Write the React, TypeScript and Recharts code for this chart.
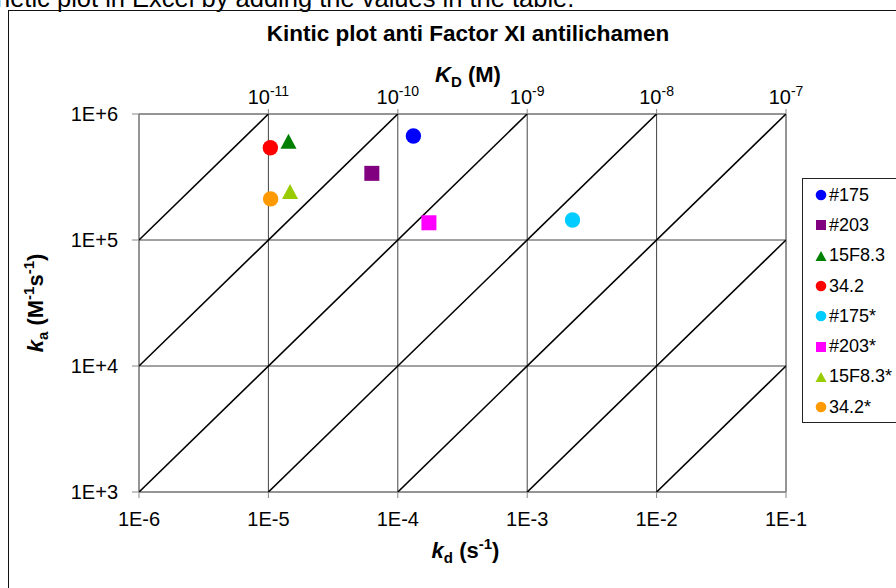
import { CartesianGrid, Label, Legend, ReferenceLine, Scatter, ScatterChart, XAxis, YAxis } from 'recharts';

const FONT = '"Liberation Sans", Arial, sans-serif';

const seriesNames = ['#175', '#203', '15F8.3', '34.2', '#175*', '#203*', '15F8.3*', '34.2*'];
const kdValues = [1.32e-4, 6.3e-5, 1.43e-5, 1.035e-5, 2.24e-3, 1.74e-4, 1.47e-5, 1.04e-5];
const kaValues = [6.69e5, 3.38e5, 6.07e5, 5.4e5, 1.44e5, 1.37e5, 2.43e5, 2.12e5];
const seriesColors = ['#0000ff', '#800080', '#008000', '#ff0000', '#00ccff', '#ff00ff', '#99cc00', '#ff9900'];
const seriesShapes = ['circle', 'square', 'triangle', 'circle', 'circle', 'square', 'triangle', 'circle'];

const kdTicks = [1e-6, 1e-5, 1e-4, 1e-3, 1e-2, 1e-1];
const kdTickLabels = ['1E-6', '1E-5', '1E-4', '1E-3', '1E-2', '1E-1'];
const kaTicks = [1e3, 1e4, 1e5, 1e6];
const kaTickLabels = ['1E+3', '1E+4', '1E+5', '1E+6'];
// KD axis on top: KD = kd / 1E+6
const kDTicks = [1e-5, 1e-4, 1e-3, 1e-2, 1e-1];
const kDExponents = ['-11', '-10', '-9', '-8', '-7'];
// iso-affinity diagonals
const kDLines = [1e-11, 1e-10, 1e-9, 1e-8, 1e-7, 1e-6, 1e-5];

const series = seriesNames.map((name, i) => ({
  name,
  color: seriesColors[i],
  shape: seriesShapes[i],
  data: [{ kd: kdValues[i], ka: kaValues[i] }],
}));

// each diagonal clipped to the plot box (kd 1E-6..1E-1, ka 1E+3..1E+6)
const diagonals = kDLines.map((kD) => {
  const x1 = Math.max(1e-6, kD * 1e3);
  const x2 = Math.min(1e-1, kD * 1e6);
  return { kD, data: [{ kd: x1, ka: x1 / kD }, { kd: x2, ka: x2 / kD }] };
});

const Marker = ({ cx, cy, fill, kind }: any) => {
  if (kind === 'square') return <rect x={cx - 7.5} y={cy - 7.5} width={15} height={15} fill={fill} />;
  if (kind === 'triangle')
    return <polygon points={`${cx},${cy - 7.5} ${cx + 8},${cy + 7.5} ${cx - 8},${cy + 7.5}`} fill={fill} />;
  return <circle cx={cx} cy={cy} r={7.7} fill={fill} />;
};

const LegendIcon = ({ kind, color }: { kind: string; color: string }) => (
  <svg width={12} height={12} style={{ marginRight: 2 }}>
    {kind === 'square' && <rect x={1} y={1} width={10} height={10} fill={color} />}
    {kind === 'triangle' && <polygon points="6,1 11.5,11 0.5,11" fill={color} />}
    {kind === 'circle' && <circle cx={6} cy={6} r={5.3} fill={color} />}
  </svg>
);

const LegendBox = ({ payload }: any) => {
  const items = (payload || [])
    .filter((e: any) => seriesNames.includes(e.value))
    .sort((a: any, b: any) => seriesNames.indexOf(a.value) - seriesNames.indexOf(b.value));
  return (
    <div style={{ border: '1px solid #222', background: '#fff', padding: '1px 0 0 12px', fontFamily: FONT }}>
      {items.map((entry: any) => {
        const i = seriesNames.indexOf(entry.value);
        return (
          <div key={entry.value} style={{ display: 'flex', alignItems: 'center', height: 30.3, fontSize: 18, color: '#000' }}>
            <LegendIcon kind={seriesShapes[i]} color={seriesColors[i]} />
            {entry.value}
          </div>
        );
      })}
    </div>
  );
};

const KDTick = (props: any) => {
  const { x, y, payload } = props;
  const i = kDTicks.indexOf(payload.value);
  return (
    <text x={x} y={y} textAnchor="middle" fontFamily={FONT} fontSize={20} fill="#000">
      10
      <tspan dy={-8} fontSize={14}>{kDExponents[i]}</tspan>
    </text>
  );
};

export default function App() {
  return (
    <div style={{ position: 'absolute', left: 0, top: 0, width: 896, height: 588, overflow: 'hidden', background: '#fff' }}>
      <div
        style={{
          position: 'absolute', left: -4, top: -15, whiteSpace: 'nowrap',
          fontFamily: FONT, fontSize: 25.5, lineHeight: '26px', color: '#000',
        }}
      >
        netic plot in Excel by adding the values in the table.
      </div>
      <div style={{ position: 'absolute', left: 8, top: 10, width: 1000, height: 1000, border: '1px solid #111' }} />
      <div style={{ position: 'absolute', left: 0, top: 0 }}>
        <ScatterChart width={896} height={588} margin={{ top: 0, right: 110, bottom: 0, left: 0 }}>
          <CartesianGrid xAxisId="bottom" stroke="#444" strokeWidth={1} />
          <XAxis
            xAxisId="bottom"
            dataKey="kd"
            type="number"
            scale="log"
            domain={[1e-6, 1e-1]}
            ticks={kdTicks}
            tickFormatter={(v: number) => kdTickLabels[kdTicks.indexOf(v)] ?? ''}
            interval={0}
            height={96}
            tickSize={6}
            tickMargin={14}
            stroke="#888"
            tick={{ fontSize: 20, fill: '#000', fontFamily: FONT }}
            allowDataOverflow
          >
            <Label
              content={({ viewBox }: any) => (
                <text x={viewBox.x + viewBox.width / 2 + 3} y={558} textAnchor="middle" fontFamily={FONT} fontSize={22} fontWeight="bold" fill="#000">
                  <tspan fontStyle="italic">k</tspan>
                  <tspan dy={5} fontSize={15}>d</tspan>
                  <tspan dy={-5}> (s</tspan>
                  <tspan dy={-9} fontSize={15}>-1</tspan>
                  <tspan dy={9}>)</tspan>
                </text>
              )}
            />
          </XAxis>
          <XAxis
            xAxisId="top"
            dataKey="kd"
            orientation="top"
            type="number"
            scale="log"
            domain={[1e-6, 1e-1]}
            ticks={kDTicks}
            interval={0}
            height={114}
            tickSize={5}
            tickMargin={5}
            stroke="#888"
            tick={(p: any) => <KDTick {...p} />}
            allowDataOverflow
          >
            <Label
              content={() => (
                <g>
                  <text x={468} y={41} textAnchor="middle" fontFamily={FONT} fontSize={22.5} fontWeight="bold" fill="#000">
                    Kintic plot anti Factor XI antilichamen
                  </text>
                  <text x={468} y={82} textAnchor="middle" fontFamily={FONT} fontSize={22} fontWeight="bold" fill="#000">
                    <tspan fontStyle="italic">K</tspan>
                    <tspan dy={5} fontSize={15}>D</tspan>
                    <tspan dy={-5}> (M)</tspan>
                  </text>
                </g>
              )}
            />
          </XAxis>
          <YAxis
            dataKey="ka"
            type="number"
            scale="log"
            domain={[1e3, 1e6]}
            ticks={kaTicks}
            tickFormatter={(v: number) => kaTickLabels[kaTicks.indexOf(v)] ?? ''}
            interval={0}
            width={139}
            tickSize={7}
            tickMargin={14}
            stroke="#888"
            tick={{ fontSize: 20, fill: '#000', fontFamily: FONT }}
            allowDataOverflow
          >
            <Label
              content={({ viewBox }: any) => {
                const cy = viewBox.y + viewBox.height / 2;
                return (
                  <text x={43} y={cy} transform={`rotate(-90 43 ${cy})`} textAnchor="middle" fontFamily={FONT} fontSize={22} fontWeight="bold" fill="#000">
                    <tspan fontStyle="italic">k</tspan>
                    <tspan dy={5} fontSize={15}>a</tspan>
                    <tspan dy={-5}> (M</tspan>
                    <tspan dy={-9} fontSize={15}>-1</tspan>
                    <tspan dy={9}>s</tspan>
                    <tspan dy={-9} fontSize={15}>-1</tspan>
                    <tspan dy={9}>)</tspan>
                  </text>
                );
              }}
            />
          </YAxis>
          <ReferenceLine xAxisId="bottom" x={1e-1} stroke="#888" />
          {diagonals.map((d) => (
            <Scatter
              key={d.kD}
              name={`KD ${d.kD}`}
              xAxisId="top"
              data={d.data}
              line={{ stroke: '#000', strokeWidth: 1.6 }}
              shape={() => <g />}
              legendType="none"
              isAnimationActive={false}
            />
          ))}
          {series.map((s) => (
            <Scatter
              key={s.name}
              name={s.name}
              xAxisId="bottom"
              data={s.data}
              fill={s.color}
              isAnimationActive={false}
              shape={(props: any) => <Marker cx={props.cx} cy={props.cy} fill={s.color} kind={s.shape} />}
            />
          ))}
          <Legend
            layout="vertical"
            align="center"
            verticalAlign="middle"
            content={<LegendBox />}
            wrapperStyle={{ left: 802, top: 178, width: 140 }}
          />
        </ScatterChart>
      </div>
    </div>
  );
}
